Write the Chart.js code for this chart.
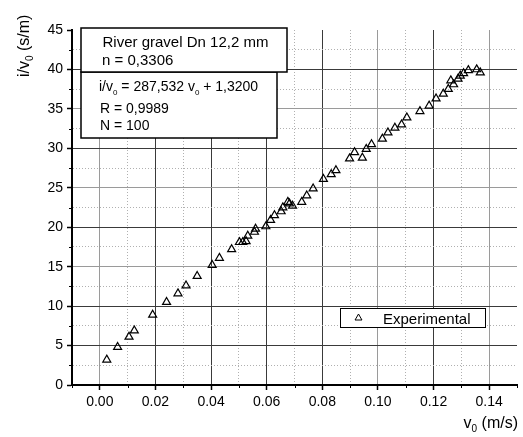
<!DOCTYPE html>
<html lang="es">
<head>
<meta charset="UTF-8">
<title>River gravel Dn 12,2 mm</title>
<script src="https://cdn.jsdelivr.net/npm/chart.js@4.4.0/dist/chart.umd.min.js"></script>
<style>
  html, body { margin: 0; padding: 0; background: #fff; }
  #chart { display: block; }
</style>
</head>
<body>
<canvas id="chart" width="523" height="437"></canvas>
<script>
// Velocidad v0 (m/s)
const velocities = [
  0.0025, 0.0064, 0.0105, 0.0124, 0.0190, 0.0240, 0.0281, 0.0310, 0.0350, 0.0404,
  0.0430, 0.0474, 0.0502, 0.0514, 0.0526, 0.0532, 0.0556, 0.0560, 0.0597, 0.0614,
  0.0628, 0.0652, 0.0658, 0.0676, 0.0682, 0.0693, 0.0726, 0.0744, 0.0767, 0.0804,
  0.0832, 0.0849, 0.0898, 0.0916, 0.0944, 0.0958, 0.0977, 0.1016, 0.1036, 0.1061,
  0.1085, 0.1104, 0.1151, 0.1184, 0.1209, 0.1235, 0.1253, 0.1262, 0.1272, 0.1288,
  0.1296, 0.1308, 0.1325, 0.1355, 0.1368,
];
// Gradiente i/v0 (s/m) para cada velocidad
const gradients = [
  3.2, 4.8, 6.1, 6.9, 8.9, 10.5, 11.6, 12.6, 13.8, 15.2,
  16.1, 17.2, 18.1, 18.1, 18.2, 18.9, 19.4, 19.8, 20.1, 20.9,
  21.5, 22.0, 22.5, 23.2, 23.0, 22.7, 23.2, 24.0, 24.9, 26.1,
  26.7, 27.2, 28.7, 29.5, 28.8, 29.9, 30.5, 31.2, 32.0, 32.6,
  33.0, 33.9, 34.7, 35.4, 36.3, 36.9, 37.5, 38.6, 38.1, 38.8,
  39.2, 39.5, 39.9, 40.0, 39.6,
];
// Etiquetas de los ejes
const xTickLabels = [0.0, 0.02, 0.04, 0.06, 0.08, 0.1, 0.12, 0.14];
const yTickLabels = [0, 5, 10, 15, 20, 25, 30, 35, 40, 45];
// Textos de las cajas
const sampleLines = ["River gravel Dn 12,2 mm", "n = 0,3306"];
const fitLines = ["R = 0,9989", "N = 100"];
const seriesName = "Experimental";

const FONT = "'Liberation Sans', Arial, sans-serif";

// Comprobar si un valor coincide con una etiqueta
function isLabel(list, value) {
  return list.some((v) => Math.abs(v - value) < 1e-6);
}

// Escribir texto con subíndices
function drawRich(ctx, parts, x, y, size) {
  let cx = x;
  parts.forEach((p) => {
    if (p.sub) {
      ctx.font = Math.round(size * 0.6) + "px " + FONT;
      ctx.fillText(p.t, cx, y + size * 0.3);
    } else {
      ctx.font = size + "px " + FONT;
      ctx.fillText(p.t, cx, y);
    }
    cx += ctx.measureText(p.t).width;
  });
  return cx - x;
}

function richWidth(ctx, parts, size) {
  let w = 0;
  parts.forEach((p) => {
    ctx.font = (p.sub ? Math.round(size * 0.6) : size) + "px " + FONT;
    w += ctx.measureText(p.t).width;
  });
  return w;
}

// Plugin para cajas, leyenda, títulos y marcas menores
const extrasPlugin = {
  id: "extras",
  afterDraw(chart) {
    const ctx = chart.ctx;
    const area = chart.chartArea;
    const xs = chart.scales.x;
    const ys = chart.scales.y;
    ctx.save();
    ctx.fillStyle = "#000";
    ctx.strokeStyle = "#000";
    ctx.textBaseline = "alphabetic";
    ctx.textAlign = "left";

    // Marcas menores
    ctx.lineWidth = 1;
    xs.ticks.forEach((t) => {
      if (isLabel(xTickLabels, t.value)) return;
      const px = Math.round(xs.getPixelForValue(t.value)) + 0.5;
      ctx.beginPath();
      ctx.moveTo(px, area.bottom);
      ctx.lineTo(px, area.bottom + 3);
      ctx.stroke();
    });
    ys.ticks.forEach((t) => {
      if (isLabel(yTickLabels, t.value)) return;
      const py = Math.round(ys.getPixelForValue(t.value)) + 0.5;
      ctx.beginPath();
      ctx.moveTo(area.left - 3, py);
      ctx.lineTo(area.left, py);
      ctx.stroke();
    });

    // Caja del ajuste
    ctx.fillStyle = "#fff";
    ctx.fillRect(81, 72, 196, 66);
    ctx.lineWidth = 1.5;
    ctx.strokeRect(81, 72, 196, 66);
    ctx.fillStyle = "#000";
    drawRich(ctx, [
      { t: "i/v" }, { t: "0", sub: true }, { t: " = 287,532 v" },
      { t: "0", sub: true }, { t: " + 1,3200" },
    ], 99, 91, 14);
    ctx.font = "14px " + FONT;
    ctx.fillText(fitLines[0], 100, 112.5);
    ctx.fillText(fitLines[1], 100, 129.5);

    // Caja de la muestra
    ctx.fillStyle = "#fff";
    ctx.fillRect(81, 28, 206, 44);
    ctx.strokeRect(81, 28, 206, 44);
    ctx.fillStyle = "#000";
    ctx.font = "15px " + FONT;
    ctx.fillText(sampleLines[0], 102.5, 46.5);
    ctx.fillText(sampleLines[1], 102, 64.5);

    // Leyenda
    ctx.fillStyle = "#fff";
    ctx.fillRect(340, 308, 146, 19);
    ctx.lineWidth = 1;
    ctx.strokeRect(340.5, 308.5, 145, 19);
    Chart.helpers.drawPoint(ctx, {
      pointStyle: "triangle", radius: 4, borderWidth: 1,
    }, 358.5, 318);
    ctx.fillStyle = "#000";
    ctx.font = "15px " + FONT;
    ctx.fillText(seriesName, 383, 324);

    // Título eje Y (rotado)
    const yTitle = [{ t: "i/v" }, { t: "0", sub: true }, { t: " (s/m)" }];
    ctx.save();
    ctx.translate(28.5, 77);
    ctx.rotate(-Math.PI / 2);
    drawRich(ctx, yTitle, 0, 0, 16);
    ctx.restore();

    // Título eje X
    const xTitle = [{ t: "v" }, { t: "0", sub: true }, { t: " (m/s)" }];
    const w = richWidth(ctx, xTitle, 16);
    drawRich(ctx, xTitle, 518 - w, 427.5, 16);

    ctx.restore();
  },
};

// Color de las líneas principales de la cuadrícula
function majorColor(light) {
  return light ? "#9a9a9a" : "#3a3a3a";
}

const points = velocities.map((v, i) => ({ x: v, y: gradients[i] }));

new Chart(document.getElementById("chart"), {
  type: "scatter",
  data: {
    datasets: [
      {
        label: seriesName,
        data: points,
        pointStyle: "triangle",
        pointRadius: 4.6,
        pointHoverRadius: 4.6,
        pointBorderWidth: 1.2,
        pointBorderColor: "#000",
        pointBackgroundColor: "rgba(255,255,255,0)",
        showLine: false,
      },
    ],
  },
  options: {
    responsive: false,
    animation: false,
    devicePixelRatio: 1,
    layout: { padding: { top: 30, right: 6, left: 0, bottom: 0 } },
    plugins: {
      legend: { display: false },
      tooltip: { enabled: false },
    },
    scales: {
      x: {
        type: "linear",
        min: -0.01,
        max: 0.15,
        afterFit: (scale) => { scale.height = 52; },
        ticks: {
          stepSize: 0.01,
          autoSkip: false,
          maxRotation: 0,
          padding: 4,
          color: "#000",
          font: { family: FONT, size: 14 },
          callback: (value) => (isLabel(xTickLabels, value) ? value.toFixed(2) : ""),
        },
        grid: {
          lineWidth: 1,
          tickLength: 5,
          tickWidth: 1.5,
          tickColor: (c) => (c.tick && isLabel(xTickLabels, c.tick.value) ? "#000" : "rgba(0,0,0,0)"),
          color: (c) => {
            if (!c.tick) return "#000";
            const v = Math.round(c.tick.value * 100);
            if (v <= -1 || v >= 15) return "rgba(0,0,0,0)";
            if (v % 2 !== 0) return "#b0b0b0";
            return majorColor(v === 0 || v === 10 || v === 14);
          },
        },
        border: {
          display: true,
          color: "#000",
          width: 2,
          dash: (c) => {
            if (!c.tick) return [];
            return Math.round(c.tick.value * 100) % 2 !== 0 ? [1, 2] : [];
          },
        },
      },
      y: {
        type: "linear",
        min: 0,
        max: 45,
        afterFit: (scale) => { scale.width = 72; },
        ticks: {
          stepSize: 2.5,
          autoSkip: false,
          padding: 4,
          color: "#000",
          font: { family: FONT, size: 14 },
          callback: (value) => (isLabel(yTickLabels, value) ? String(value) : ""),
        },
        grid: {
          lineWidth: 1,
          tickLength: 5,
          tickWidth: 1.5,
          tickColor: (c) => (c.tick && isLabel(yTickLabels, c.tick.value) ? "#000" : "rgba(0,0,0,0)"),
          color: (c) => {
            if (!c.tick) return "#000";
            const v = Math.round(c.tick.value * 2);
            if (v <= 0 || v >= 90) return "rgba(0,0,0,0)";
            if (v % 10 !== 0) return "#b0b0b0";
            return majorColor(v === 30 || v === 50 || v === 70);
          },
        },
        border: {
          display: true,
          color: "#000",
          width: 2,
          dash: (c) => {
            if (!c.tick) return [];
            return Math.round(c.tick.value * 2) % 10 !== 0 ? [1, 2] : [];
          },
        },
      },
    },
  },
  plugins: [extrasPlugin],
});
</script>
</body>
</html>
